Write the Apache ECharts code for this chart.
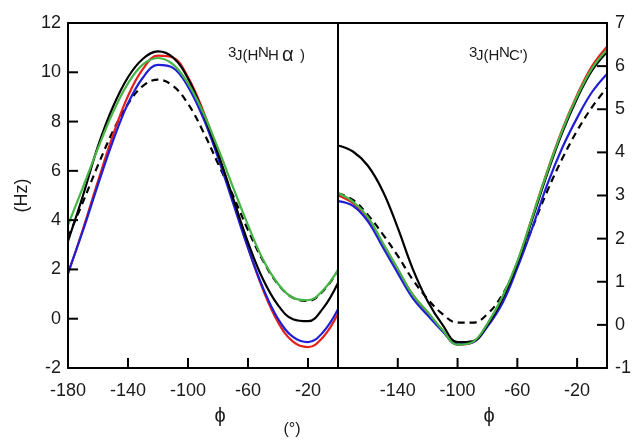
<!DOCTYPE html>
<html>
<head>
<meta charset="utf-8">
<script src="https://cdn.jsdelivr.net/npm/echarts@6/dist/echarts.min.js"></script>
<style>html,body{margin:0;padding:0;background:#fff;}#c{width:634px;height:440px;}</style>
</head>
<body>
<div id="c"></div>
<script>
// phi grid (degrees)
const phi = [-180,-170,-160,-150,-140,-130,-120,-110,-100,-90,-80,-70,-60,-50,-40,-30,-20,-10,0];
// left panel 3J(HNHa), Hz
const hnhaBlack  = [3.15,5.0,7.0,8.6,9.8,10.55,10.85,10.6,9.75,8.35,6.7,4.9,3.1,1.6,0.55,-0.02,-0.1,0.42,1.45];
const hnhaRed    = [1.82,3.64,5.58,7.45,9.04,10.14,10.68,10.6,9.8,8.45,6.73,4.8,2.89,1.18,-0.14,-0.93,-1.15,-0.75,0.2];
const hnhaBlue   = [1.86,3.58,5.44,7.22,8.73,9.79,10.3,10.18,9.42,8.17,6.54,4.7,2.87,1.25,0.0,-0.74,-0.95,-0.55,0.38];
const hnhaGreen  = [3.8,5.34,6.92,8.38,9.55,10.32,10.58,10.32,9.55,8.38,6.92,5.34,3.8,2.4,1.42,0.85,0.75,1.15,1.98];
const hnhaDashed = [3.3,4.74,6.23,7.61,8.72,9.45,9.7,9.45,8.72,7.61,6.3,5.0,3.6,2.35,1.4,0.85,0.72,1.12,1.95];
// right panel 3J(HNC'), Hz
const hncBlack  = [4.16,4.02,3.69,3.1,2.25,1.3,0.55,0.0,-0.4,-0.38,0.0,0.6,1.42,2.45,3.5,4.45,5.25,5.9,6.33];
const hncRed    = [3.0,2.82,2.45,1.88,1.28,0.7,0.28,-0.13,-0.46,-0.41,0.01,0.63,1.45,2.5,3.56,4.52,5.33,6.0,6.45];
const hncBlue   = [2.87,2.76,2.4,1.8,1.2,0.62,0.22,-0.15,-0.45,-0.41,-0.04,0.5,1.32,2.25,3.25,4.1,4.8,5.4,5.82];
const hncGreen  = [3.06,2.86,2.5,1.9,1.3,0.7,0.3,-0.12,-0.46,-0.4,0.03,0.65,1.47,2.5,3.55,4.5,5.3,5.95,6.38];
const hncDashed = [3.05,2.9,2.55,2.1,1.6,1.05,0.6,0.25,0.05,0.05,0.25,0.7,1.4,2.25,3.1,3.85,4.5,5.05,5.5];
// tick settings
const leftYTicks = {min:-2, max:12, interval:2};
const rightYTicks = {min:-1, max:7, interval:1};
const xTicks = {min:-180, max:0, interval:40};
// inner tick positions
const xTickVals = [-140,-100,-60,-20];
const leftYTickVals = [0,2,4,6,8,10];
const rightYTickVals = [0,1,2,3,4,5,6];

const FONT = 'Liberation Sans, Arial, sans-serif';
const C = {black:'#000000', red:'#e3201b', blue:'#1f1fd6', green:'#45b545'};
const TXT = '#1a1a1a';
const GRID_W = 270, GRID_H = 345, TICK_LEN = 10;
// tick length expressed in each axis' units
const xTickLen = TICK_LEN * (xTicks.max - xTicks.min) / GRID_W;
const lyTickLen = TICK_LEN * (leftYTicks.max - leftYTicks.min) / GRID_H;
const ryTickLen = TICK_LEN * (rightYTicks.max - rightYTicks.min) / GRID_H;

function pairs(arr){ return phi.map((p,i)=>[p, arr[i]]); }
function mk(arr, color, gi, dashed){
  return {type:'line', xAxisIndex:gi, yAxisIndex:gi, data:pairs(arr), smooth:0.4,
    showSymbol:false, symbol:'none', silent:true,
    lineStyle:{color:color, width:2.2, type: dashed ? [7,5] : 'solid'}};
}
function tickSeries(gi, a, b){
  return {type:'line', xAxisIndex:gi, yAxisIndex:gi, data:[a, b], showSymbol:false, symbol:'none',
    silent:true, z:20, clip:false, lineStyle:{color:'#000', width:2}};
}
const tickList = [];
xTickVals.forEach(v=>{
  tickList.push(tickSeries(0, [v, leftYTicks.min], [v, leftYTicks.min + lyTickLen]));
  tickList.push(tickSeries(1, [v, rightYTicks.min], [v, rightYTicks.min + ryTickLen]));
});
leftYTickVals.forEach(v=>tickList.push(tickSeries(0, [xTicks.min, v], [xTicks.min + xTickLen, v])));
rightYTickVals.forEach(v=>tickList.push(tickSeries(1, [xTicks.max, v], [xTicks.max - xTickLen, v])));

const axisLine = {show:true, onZero:false, lineStyle:{color:'#000', width:2}};
const noTick = {show:false};
const lblStyle = {fontFamily:FONT, fontSize:18, color:TXT};

function xMain(gi, extraLabel){
  return {type:'value', gridIndex:gi, position:'bottom', min:xTicks.min, max:xTicks.max, interval:xTicks.interval,
    axisLine:axisLine, axisTick:noTick, splitLine:{show:false}, z:10,
    axisLabel:Object.assign({show:true, margin:14, showMaxLabel:false}, extraLabel, lblStyle)};
}
function frame(gi, pos, rng){
  return {type:'value', gridIndex:gi, position:pos, min:rng.min, max:rng.max, interval:rng.interval,
    axisLine:axisLine, axisTick:noTick, axisLabel:{show:false}, splitLine:{show:false}, z:10};
}

const texts = [
  {type:'text', x:228, y:45, style:{text:'3', font:'15px '+FONT, fill:TXT}},
  {type:'text', x:235, y:48, style:{text:'J(H', font:'15px '+FONT, fill:TXT}},
  {type:'text', x:258, y:45, style:{text:'N', font:'15px '+FONT, fill:TXT}},
  {type:'text', x:268, y:48, style:{text:'H', font:'15px '+FONT, fill:TXT}},
  {type:'text', x:282, y:45, style:{text:'α', font:'20px '+FONT, fill:TXT}},
  {type:'text', x:300, y:48, style:{text:')', font:'15px '+FONT, fill:TXT}},
  {type:'text', x:469, y:45, style:{text:'3', font:'15px '+FONT, fill:TXT}},
  {type:'text', x:476, y:48, style:{text:'J(H', font:'15px '+FONT, fill:TXT}},
  {type:'text', x:499, y:45, style:{text:'N', font:'15px '+FONT, fill:TXT}},
  {type:'text', x:509, y:48, style:{text:"C')", font:'15px '+FONT, fill:TXT}},
  {type:'text', x:220, y:416, style:{text:'ϕ', font:'20px '+FONT, fill:TXT, textAlign:'center', textVerticalAlign:'middle'}},
  {type:'text', x:292, y:430, style:{text:'(°)', font:'16px '+FONT, fill:TXT, textAlign:'center', textVerticalAlign:'middle'}},
  {type:'text', x:489, y:416, style:{text:'ϕ', font:'20px '+FONT, fill:TXT, textAlign:'center', textVerticalAlign:'middle'}}
];

const chart = echarts.init(document.getElementById('c'), null, {renderer:'canvas'});
chart.setOption({
  animation:false,
  backgroundColor:'#fff',
  grid:[
    {left:68, top:23, width:GRID_W, height:GRID_H, show:false},
    {left:68 + GRID_W, top:23, width:GRID_W, height:GRID_H, show:false}
  ],
  xAxis:[
    xMain(0, {}),
    xMain(1, {showMinLabel:false}),
    frame(0, 'top', xTicks),
    frame(1, 'top', xTicks)
  ],
  yAxis:[
    {type:'value', gridIndex:0, position:'left', min:leftYTicks.min, max:leftYTicks.max, interval:leftYTicks.interval,
     axisLine:axisLine, axisTick:noTick, splitLine:{show:false}, z:10,
     axisLabel:Object.assign({show:true, margin:7}, lblStyle),
     name:'(Hz)', nameLocation:'middle', nameGap:37, nameRotate:90,
     nameTextStyle:{fontFamily:FONT, fontSize:18, color:TXT}},
    {type:'value', gridIndex:1, position:'right', min:rightYTicks.min, max:rightYTicks.max, interval:rightYTicks.interval,
     axisLine:axisLine, axisTick:noTick, splitLine:{show:false}, z:10,
     axisLabel:Object.assign({show:true, margin:8}, lblStyle)},
    frame(0, 'right', leftYTicks),
    frame(1, 'left', rightYTicks)
  ],
  series:[
    mk(hnhaDashed, C.black, 0, true),
    mk(hnhaRed, C.red, 0),
    mk(hnhaBlue, C.blue, 0),
    mk(hnhaBlack, C.black, 0),
    mk(hnhaGreen, C.green, 0),
    mk(hncDashed, C.black, 1, true),
    mk(hncRed, C.red, 1),
    mk(hncBlue, C.blue, 1),
    mk(hncBlack, C.black, 1),
    mk(hncGreen, C.green, 1)
  ].concat(tickList),
  graphic: texts
});
</script>
</body>
</html>
